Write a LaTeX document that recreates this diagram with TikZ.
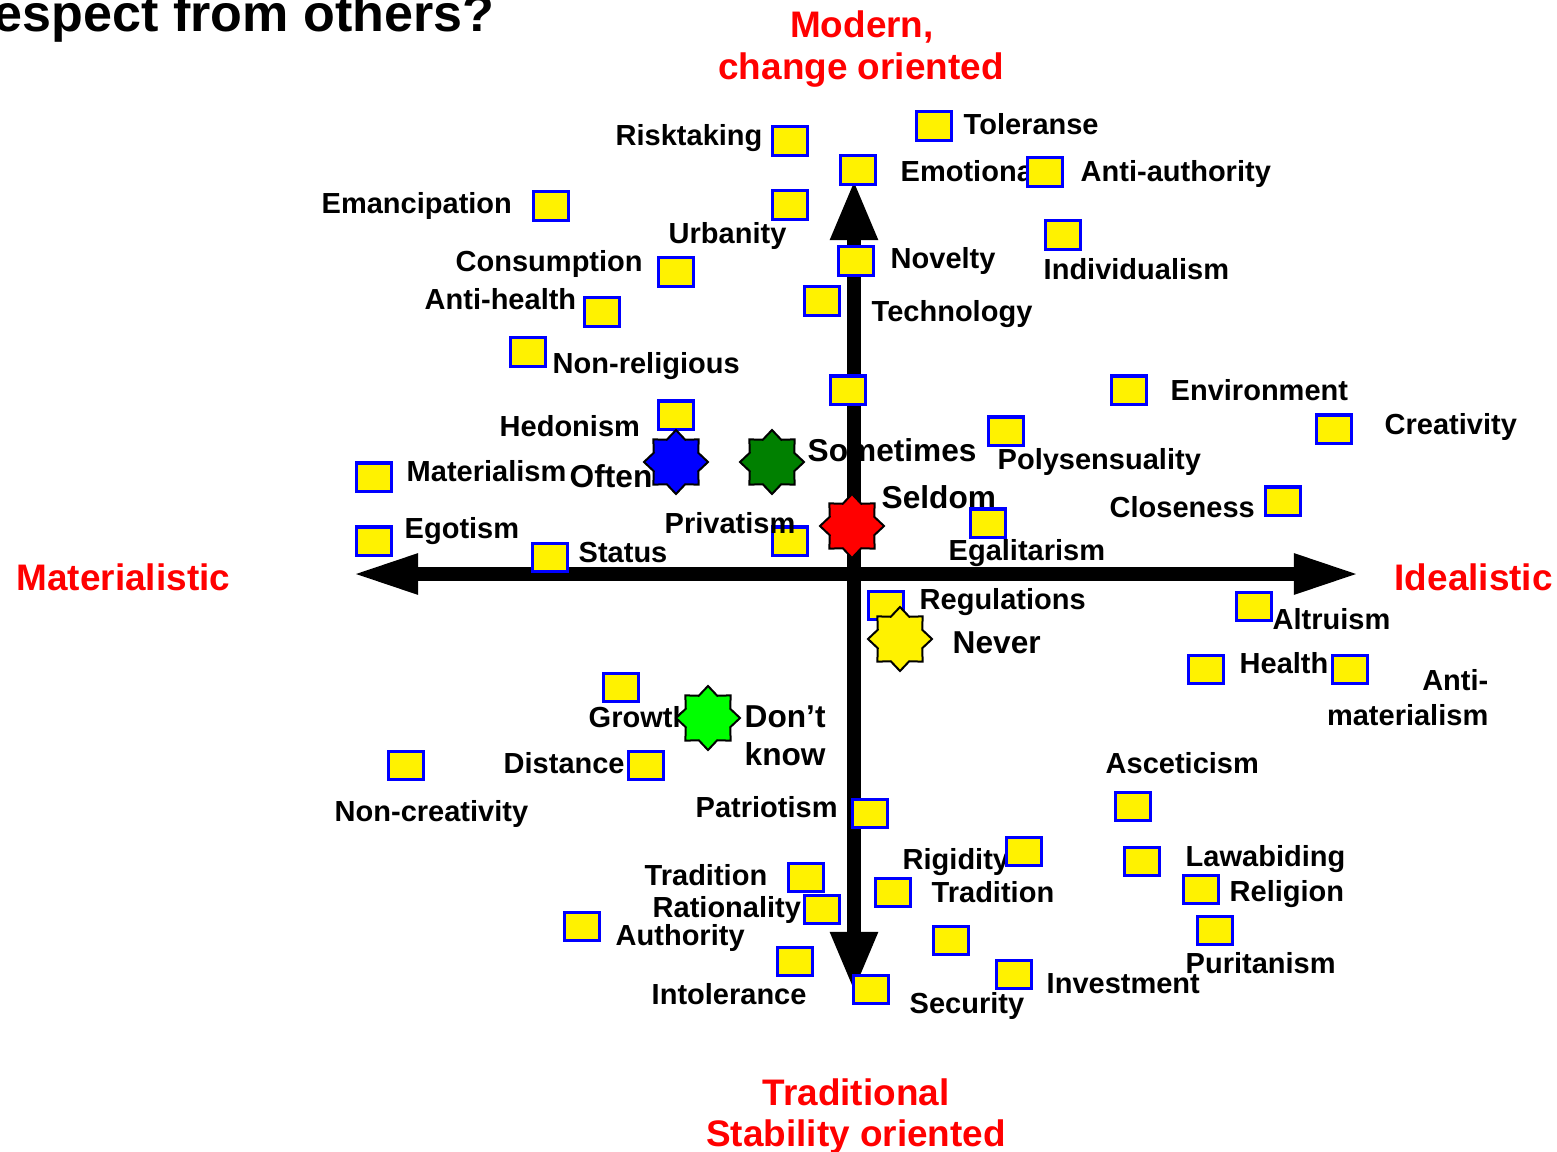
\documentclass[tikz,border=0pt]{standalone}
\usepackage{fontspec}
\setmainfont{Liberation Sans}
\usetikzlibrary{arrows.meta,shapes.geometric,positioning}
\definecolor{dkgreen}{RGB}{0,128,0}
\definecolor{ltgreen}{RGB}{0,255,0}
\tikzstyle{item}=[
  draw=blue,
  fill=yellow,
  line width=0.03cm,
  minimum width=0.35cm,
  minimum height=0.28cm,
  inner sep=0pt,
]
\tikzstyle{word}=[
  font={\fontsize{8.25pt}{9pt}\selectfont\bfseries},
  inner sep=0pt,
  anchor=base west,
]
\tikzstyle{cue}=[
  word,
  font={\fontsize{9pt}{10pt}\selectfont\bfseries},
]
\tikzstyle{pole}=[
  font={\fontsize{10.5pt}{12pt}\selectfont\bfseries},
  text=red,
  inner sep=0pt,
]
\tikzstyle{freq}=[
  star, star points=8, star point ratio=1.33,
  minimum size=0.64cm, inner sep=0pt,
  draw=black, line width=0.02cm,
]
\tikzstyle{axis}=[
  line width=0.14cm,
]
\tikzset{
  hhead/.tip={Triangle[length=0.66cm,width=0.37cm]},
  vhead/.tip={Triangle[length=0.6cm,width=0.44cm]},
}

\begin{document}
\begin{tikzpicture}[x=0.01cm,y=-0.01cm]
      \useasboundingbox (0,0) rectangle (1557,1151);
      \clip (0,0) rectangle (1557,1151);
      % title, cut at the left edge
      \node [inner sep=0pt, anchor=base east,
      font={\fontsize{14.8pt}{16pt}\selectfont\bfseries}] (title)
      at (495,31) {espect from others?};
      % poles
      \node [pole, anchor=base] (modern1) at (862,37) {Modern,};
      \node [pole, anchor=base] (modern2) at (861,79) {change oriented};
      \node [pole, anchor=base west] (materialistic) at (16,590) {Materialistic};
      \node [pole, anchor=base west] (idealistic) at (1394,590) {Idealistic};
      \node [pole, anchor=base] (trad1) at (856,1105) {Traditional};
      \node [pole, anchor=base] (trad2) at (856,1146) {Stability oriented};
      % labels
      \node [word] (risktaking) at (615,145) {Risktaking};
      \node [word] (toleranse) at (963,134) {Toleranse};
      \node [word] (emotional) at (900,181) {Emotional};
      \node [word] (antiauth) at (1080,181) {Anti-authority};
      \node [word] (emancipation) at (321,213) {Emancipation};
      \node [word] (urbanity) at (668,243) {Urbanity};
      \node [word] (consumption) at (455,271) {Consumption};
      \node [word] (novelty) at (890,268) {Novelty};
      \node [word] (individualism) at (1043,279) {Individualism};
      \node [word] (antihealth) at (424,309) {Anti-health};
      \node [word] (technology) at (871,321) {Technology};
      \node [word] (nonreligious) at (552,373) {Non-religious};
      \node [word] (environment) at (1170,400) {Environment};
      \node [word] (creativity) at (1384,434) {Creativity};
      \node [word] (hedonism) at (499,436) {Hedonism};
      \node [cue] (sometimes) at (807,461) {Sometimes};
      \node [word] (polysensuality) at (997,469) {Polysensuality};
      \node [word] (materialism) at (406,481) {Materialism};
      \node [cue] (often) at (569,487) {Often};
      \node [cue] (seldom) at (881,508) {Seldom};
      \node [word] (closeness) at (1109,517) {Closeness};
      \node [word] (egotism) at (404,538) {Egotism};
      \node [word] (egalitarism) at (948,560) {Egalitarism};
      \node [word] (status) at (578,562) {Status};
      \node [word] (regulations) at (919,609) {Regulations};
      \node [word] (altruism) at (1272,629) {Altruism};
      \node [cue] (never) at (952,653) {Never};
      \node [word] (health) at (1239,673) {Health};
      \node [word, anchor=base east] (antimat1) at (1489,690) {Anti-};
      \node [word, anchor=base east] (antimat2) at (1489,725) {materialism};
      \node [word] (growth) at (588,727) {Growth};
      \node [cue] (dont) at (744,727) {Don’t};
      \node [cue] (know) at (744,765) {know};
      \node [word] (distance) at (503,773) {Distance};
      \node [word] (asceticism) at (1105,773) {Asceticism};
      \node [word] (noncreativity) at (334,821) {Non-creativity};
      \node [word] (patriotism) at (695,817) {Patriotism};
      \node [word] (rigidity) at (902,869) {Rigidity};
      \node [word] (lawabiding) at (1185,866) {Lawabiding};
      \node [word] (traditionl) at (644,885) {Tradition};
      \node [word] (traditionr) at (931,902) {Tradition};
      \node [word] (religion) at (1229,901) {Religion};
      \node [word] (rationality) at (652,917) {Rationality};
      \node [word] (authority) at (615,945) {Authority};
      \node [word] (puritanism) at (1185,973) {Puritanism};
      \node [word] (investment) at (1046,993) {Investment};
      \node [word] (intolerance) at (651,1004) {Intolerance};
      \node [word] (security) at (909,1013) {Security};
      % axes
      \coordinate (west) at (352,574);
      \coordinate (east) at (1360,574);
      \coordinate (north) at (854,180);
      \coordinate (south) at (854,992);
      \draw [axis, hhead-hhead] (west) -- (east);
      \draw [axis, vhead-vhead] (north) -- (south);
      % values
      \node [item] (sqrisk) at (790,141) {};
      \node [item] (sqtol) at (934,126) {};
      \node [item] (sqemo) at (858,170) {};
      \node [item] (sqantiauth) at (1045,172) {};
      \node [item] (sqeman) at (551,206) {};
      \node [item] (squrb) at (790,205) {};
      \node [item] (sqindiv) at (1063,235) {};
      \node [item] (sqnov) at (856,261) {};
      \node [item] (sqcons) at (676,272) {};
      \node [item] (sqantihealth) at (602,312) {};
      \node [item] (sqtech) at (822,301) {};
      \node [item] (sqnonrel) at (528,352) {};
      \node [item] (sqmid) at (848,390) {};
      \node [item] (sqenv) at (1129,390) {};
      \node [item] (sqcreat) at (1334,429) {};
      \node [item] (sqhedo) at (676,415) {};
      \node [item] (sqpoly) at (1006,431) {};
      \node [item] (sqmat) at (374,477) {};
      \node [item] (sqclose) at (1283,501) {};
      \node [item] (sqego) at (374,541) {};
      \node [item] (sqegal) at (988,523) {};
      \node [item] (sqstatus) at (550,557) {};
      \node [item] (sqpriv) at (790,541) {};
      \node [item] (sqreg) at (886,605) {};
      \node [item] (sqaltr) at (1254,606) {};
      \node [item] (sqhealth) at (1206,669) {};
      \node [item] (sqantimat) at (1350,669) {};
      \node [item] (sqgrowth) at (621,687) {};
      \node [item] (sqdist) at (646,765) {};
      \node [item] (sqnoncr) at (406,765) {};
      \node [item] (sqasc) at (1133,806) {};
      \node [item] (sqpatr) at (870,813) {};
      \node [item] (sqrigid) at (1024,851) {};
      \node [item] (sqlaw) at (1142,861) {};
      \node [item] (sqtradl) at (806,877) {};
      \node [item] (sqtradr) at (893,892) {};
      \node [item] (sqrelig) at (1201,889) {};
      \node [item] (sqration) at (822,909) {};
      \node [item] (sqauth) at (582,926) {};
      \node [item] (sqpurit) at (1215,930) {};
      \node [item] (sqlow) at (951,940) {};
      \node [item] (sqintol) at (795,961) {};
      \node [item] (sqinvest) at (1014,974) {};
      \node [item] (sqsec) at (871,989) {};
      \node [word] (privatism) at (664,533) {Privatism};
      % frequencies
      \node [freq, fill=blue] (stoften) at (676,462) {};
      \node [freq, fill=dkgreen] (stsometimes) at (772,462) {};
      \node [freq, fill=red] (stseldom) at (852,526) {};
      \node [freq, fill=yellow] (stnever) at (900,639) {};
      \node [freq, fill=ltgreen] (stdontknow) at (708,718) {};
    \end{tikzpicture}
\end{document}
